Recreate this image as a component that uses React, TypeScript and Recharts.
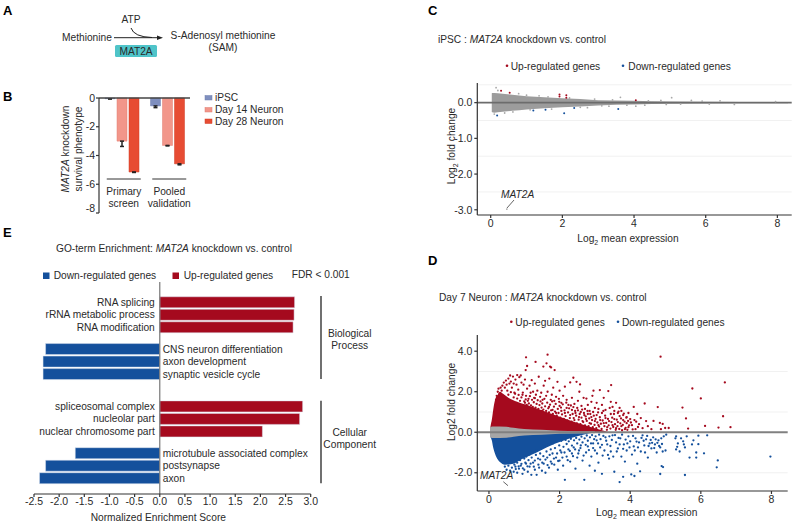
import React from 'react';
import {
  Area,
  Bar,
  BarChart,
  CartesianGrid,
  Cell,
  ComposedChart,
  ErrorBar,
  LabelList,
  ReferenceLine,
  Scatter,
  XAxis,
  YAxis,
} from 'recharts';

const FONT = '"Liberation Sans", Arial, sans-serif';
const INK = '#2a2a2a';
const RED = '#A50A1E';
const BLUE = '#14509C';
const GREY = '#9c9c9c';

// Panel B
const screenGroups = ['Primary screen', 'Pooled validation'];
const ipscValues = [-0.05, -0.55];
const day14Values = [-3.0, -3.3];
const day28Values = [-5.15, -4.58];
const ipscErrors = [0.02, 0.12];
const day14Errors = [0.37, 0.03];
const day28Errors = [0.03, 0.07];
const survivalTicks = [0, -2, -4, -6, -8];

// Panel E
const goTerms = [
  'RNA splicing', 'rRNA metabolic process', 'RNA modification',
  'CNS neuron differentiation', 'axon development', 'synaptic vesicle cycle',
  'spliceosomal complex', 'nucleolar part', 'nuclear chromosome part',
  'microtubule associated complex', 'postsynapse', 'axon',
];
const enrichmentScores = [2.68, 2.67, 2.65, -2.27, -2.32, -2.32, 2.84, 2.78, 2.04, -1.68, -2.27, -2.39];
const enrichmentTicks = [-2.5, -2, -1.5, -1, -0.5, 0, 0.5, 1, 1.5, 2, 2.5, 3];

// Panel C
const ipscUpper = [[0.03, 0.26], [0.04, 0.27], [0.1, 0.27], [0.2, 0.26], [0.4, 0.24], [0.6, 0.22], [0.8, 0.2], [1, 0.18], [1.5, 0.15], [2, 0.12], [2.5, 0.1], [3, 0.07], [3.5, 0.06], [4, 0.05], [4.5, 0.04], [5, 0.03], [6, 0.025], [7, 0.02], [8.3, 0.015]];
const ipscLower = [-0.26, -0.27, -0.28, -0.27, -0.25, -0.23, -0.21, -0.19, -0.16, -0.13, -0.11, -0.08, -0.06, -0.05, -0.04, -0.03, -0.025, -0.02, -0.015];
const ipscUpGenes = [[0.29, 0.33], [0.53, 0.28], [1.92, 0.23], [1.92, 0.17], [2.11, 0.21], [2.11, 0.14], [4.05, 0.07]];
const ipscDownGenes = [[0.18, -0.36], [2.05, -0.3], [1.53, -0.2], [1.19, -0.22], [2.33, -0.15], [3.56, -0.18]];
const ipscOtherGenes = [[0.15, 0.42], [0.2, 0.34], [3.62, 0.15], [5.05, 0.14], [0.45, -2.98], [0.39, -0.29], [2.7, -0.14], [0.1, -0.32], [0.78, 0.25], [1.35, 0.19], [1.7, -0.18], [2.9, 0.1], [3.3, -0.1], [4.3, -0.07], [4.05, -0.1], [4.75, 0.06], [5.6, 0.06], [6.4, 0.05], [6.8, -0.05], [7.95, 0.03], [0.62, -0.26], [1.0, 0.21], [1.1, -0.2], [1.6, 0.16], [2.2, 0.13], [2.5, -0.13], [3.1, -0.09], [3.4, 0.08], [3.8, -0.07], [4.4, 0.05], [4.9, -0.05], [5.3, -0.04], [5.9, 0.04], [6.1, -0.04]];
const ipscFoldTicks = [0, -1, -2, -3];
const ipscGridLines = [0.5, -0.5, -1, -1.5, -2, -2.5];

// Panel D
const neuronUpEnvelope = [[0.03, 0.15], [0.05, 0.35], [0.08, 0.6], [0.12, 1.1], [0.17, 1.58], [0.25, 1.85], [0.31, 2.0], [0.4, 1.9], [0.55, 1.7], [0.8, 1.5], [1.16, 1.3], [1.63, 1.0], [2.1, 0.7], [2.58, 0.42], [3.0, 0.2], [3.4, 0]];
const neuronDownEnvelope = [[0.03, -0.15], [0.05, -0.25], [0.08, -0.4], [0.12, -0.75], [0.17, -1.05], [0.25, -1.35], [0.31, -1.47], [0.45, -1.6], [0.69, -1.55], [0.97, -1.3], [1.35, -1.0], [1.63, -0.75], [2.1, -0.42], [2.5, -0.2], [3, 0]];
const neuronGreyBand = [[0.03, 0.25], [0.1, 0.28], [0.5, 0.27], [0.7, 0.22], [1, 0.16], [1.5, 0.12], [2, 0.08], [3, 0.05]];
const neuronUpGenes = [
  [1.66, 3.83], [1.05, 3.7], [1.32, 3.47], [1.63, 3.4], [1.08, 3.27], [1.04, 3.07], [1.73, 3.24], [1.54, 3.24], [1.86, 3.07], [1.76, 3.2],
  [0.2, 1.6], [0.22, 1.8], [0.25, 2.0], [0.27, 2.15], [0.3, 1.9], [0.33, 2.2], [0.36, 2.05], [0.38, 2.3], [0.42, 2.45], [0.45, 2.2],
  [0.48, 2.55], [0.5, 2.35], [0.52, 2.05], [0.55, 2.65], [0.58, 2.4], [0.6, 2.8], [0.62, 2.5], [0.65, 2.2], [0.68, 2.75], [0.7, 2.4],
  [0.72, 1.95], [0.75, 2.6], [0.78, 2.35], [0.8, 2.82], [0.83, 2.1], [0.86, 2.72], [0.9, 2.8], [0.92, 2.45], [0.95, 1.85], [0.98, 2.35],
  [1.02, 2.6], [1.05, 1.8], [1.08, 2.15], [1.12, 1.65], [1.15, 2.3], [1.18, 1.95], [1.21, 2.57], [1.25, 2.0], [1.28, 1.7], [1.3, 2.4],
  [1.33, 1.85], [1.37, 2.05], [1.41, 2.74], [1.45, 1.75], [1.48, 1.95], [1.52, 1.6], [1.55, 2.3], [1.59, 2.54], [1.62, 1.8], [1.66, 2.0],
  [1.71, 2.65], [1.75, 1.6], [1.78, 1.85], [1.82, 2.2], [1.85, 1.55], [1.9, 1.75], [1.94, 2.49], [1.98, 1.65], [2.0, 2.05], [2.05, 1.45],
  [2.1, 1.8], [2.15, 2.25], [2.2, 1.6], [2.25, 1.35], [2.3, 2.46], [2.35, 1.7], [2.39, 2.69], [2.42, 1.4], [2.48, 2.49], [2.52, 1.55],
  [2.56, 2.0], [2.58, 2.36], [2.62, 1.3], [2.68, 1.7], [2.72, 1.15], [2.76, 1.66], [2.8, 1.35], [2.85, 1.05], [2.9, 1.5], [2.93, 1.8],
  [2.96, 2.05], [3.0, 1.2], [1.5, 1.05], [1.6, 0.95], [1.7, 1.25], [1.8, 1.1], [1.9, 0.95], [2.0, 1.3], [2.05, 1.05], [2.15, 0.95],
  [2.2, 1.2], [2.3, 0.85], [2.35, 1.1], [2.4, 0.7], [2.45, 0.95], [2.5, 1.2], [2.55, 0.75], [2.6, 1.0], [2.65, 0.55], [2.7, 0.85],
  [2.75, 0.65], [2.8, 0.9], [2.85, 0.45], [2.9, 0.75], [2.95, 1.0], [3.0, 0.55], [3.05, 0.85], [3.1, 0.35], [3.15, 0.6], [3.2, 0.95],
  [3.25, 0.45], [3.3, 0.7], [3.35, 0.25], [3.4, 0.55], [3.45, 0.9], [3.5, 0.35], [3.55, 0.65], [3.6, 0.2], [3.65, 0.5], [3.7, 0.8],
  [3.75, 0.3], [3.8, 0.6], [3.85, 0.15], [3.9, 0.45], [3.95, 0.25], [3.05, 1.45], [3.1, 1.15], [3.2, 1.35], [3.25, 1.7], [3.3, 1.1],
  [3.38, 2.03], [3.14, 2.08], [3.46, 2.33], [3.45, 1.5], [3.5, 1.25], [3.55, 1.05], [3.6, 1.45], [3.65, 0.95], [3.7, 1.2], [3.75, 1.05],
  [3.8, 0.85], [3.9, 0.75], [3.95, 0.95], [4.0, 0.65], [4.05, 0.35], [4.1, 1.25], [4.12, 0.6], [4.15, 0.15], [4.2, 0.9], [4.25, 0.4],
  [4.3, 0.7], [4.35, 0.2], [4.41, 1.42], [4.45, 0.55], [4.5, 0.3], [4.6, 0.15], [4.66, 0.56], [4.78, 1.24], [4.84, 0.46], [4.86, 3.73],
  [4.87, 0.15], [4.92, 0.41], [4.99, 0.21], [5.09, 0.21], [5.48, 1.22], [5.58, 0.68], [5.64, 0.18], [5.76, 2.16], [6.0, 1.67], [6.12, 0.31],
  [6.5, 0.23], [6.63, 0.79], [6.68, 2.46], [6.84, 0.25],
];
// the thick speckled part of the up-regulated cloud
const neuronUpSpeckle = [
  [0.55, 1.85], [0.62, 1.98], [0.7, 1.72], [0.74, 1.9], [0.8, 1.66], [0.84, 1.84], [0.88, 1.55], [0.92, 1.72], [0.96, 1.96], [1.0, 1.52],
  [1.02, 1.45], [1.04, 1.62], [1.07, 1.35], [1.1, 1.55], [1.13, 1.42], [1.16, 1.78], [1.19, 1.33], [1.22, 1.6], [1.24, 1.25], [1.27, 1.48],
  [1.3, 1.68], [1.32, 1.22], [1.35, 1.4], [1.38, 1.58], [1.4, 1.15], [1.43, 1.34], [1.46, 1.52], [1.49, 1.22], [1.51, 1.42], [1.54, 1.12],
  [1.57, 1.65], [1.59, 1.28], [1.62, 1.05], [1.65, 1.46], [1.68, 1.18], [1.7, 0.98], [1.73, 1.36], [1.76, 1.08], [1.79, 1.52], [1.81, 0.9],
  [1.84, 1.26], [1.87, 1.02], [1.89, 1.4], [1.92, 0.82], [1.95, 1.15], [1.97, 0.95], [1.99, 1.5], [2.02, 0.72], [2.04, 1.22], [2.07, 0.88],
  [2.09, 1.38], [2.12, 0.66], [2.14, 1.08], [2.17, 0.8], [2.19, 1.46], [2.22, 0.58], [2.24, 0.98], [2.27, 1.18], [2.29, 0.7], [2.32, 1.32],
  [2.34, 0.52], [2.37, 0.9], [2.39, 1.24], [2.42, 0.6], [2.44, 1.05], [2.47, 0.82], [2.49, 0.44], [2.52, 1.08], [2.54, 0.62], [2.57, 0.9],
  [2.59, 0.4], [2.62, 0.72], [2.64, 1.12], [2.67, 0.5], [2.69, 0.95], [2.72, 0.34], [2.74, 0.78], [2.77, 0.56], [2.79, 1.05], [2.82, 0.3],
  [2.84, 0.68], [2.87, 0.9], [2.89, 0.42], [2.92, 0.6], [2.94, 0.25], [2.97, 0.82], [2.99, 0.36], [3.02, 0.66], [3.04, 0.2], [3.07, 0.48],
  [3.09, 0.98], [3.12, 0.28], [3.14, 0.74], [3.17, 0.42], [3.19, 0.16], [3.22, 0.58], [3.24, 1.05], [3.27, 0.3], [3.29, 0.82], [3.32, 0.46],
  [3.34, 0.12], [3.37, 0.66], [3.39, 0.34], [3.42, 1.2], [3.44, 0.18], [3.47, 0.5], [3.49, 0.72], [3.52, 0.26], [3.54, 0.9], [3.57, 0.4],
  [3.59, 0.12], [3.62, 0.62], [3.64, 0.3], [3.67, 1.02], [3.69, 0.16], [3.72, 0.44], [3.74, 0.68], [3.77, 0.1], [3.79, 0.36], [3.82, 0.92],
  [3.84, 0.52], [3.87, 0.22], [3.89, 0.72], [3.92, 0.12], [3.94, 0.56], [3.97, 0.34], [4.02, 0.48], [4.07, 0.14], [4.17, 0.52], [4.22, 0.26],
];
const neuronDownGenes = [
  [0.45, -1.7], [0.5, -1.85], [0.55, -1.65], [0.6, -1.9], [0.65, -1.75], [0.7, -1.95], [0.75, -1.7], [0.8, -2.0], [0.85, -1.8], [0.9, -1.65],
  [0.95, -2.05], [1.0, -1.85], [1.05, -1.55], [1.1, -1.95], [1.15, -1.7], [1.2, -2.1], [1.25, -1.5], [1.3, -1.85], [1.35, -2.1], [1.4, -1.6],
  [1.45, -1.35], [1.5, -1.9], [1.55, -1.55], [1.6, -2.0], [1.65, -1.25], [1.7, -1.75], [1.75, -1.45], [1.8, -1.05], [1.85, -1.6], [1.9, -1.25],
  [1.95, -1.85], [2.0, -1.4], [2.05, -1.0], [2.1, -1.65], [2.15, -2.35], [2.2, -1.2], [2.25, -0.85], [2.3, -1.45], [2.35, -1.05], [2.4, -0.75],
  [2.45, -1.8], [2.5, -1.25], [2.55, -0.9], [2.6, -0.65], [2.65, -1.4], [2.7, -2.35], [2.75, -1.0], [2.8, -0.7], [2.85, -1.65], [2.9, -1.2],
  [2.95, -0.55], [3.0, -0.9], [3.0, -1.9], [3.05, -0.4], [3.1, -1.5], [3.15, -0.75], [3.2, -2.05], [3.22, -1.15], [3.3, -0.25], [3.35, -0.6],
  [3.4, -1.3], [3.45, -0.95], [3.5, -0.15], [3.55, -1.95], [3.6, -0.5], [3.65, -0.8], [3.7, -2.46], [3.72, -0.3], [3.75, -1.2], [3.8, -2.2],
  [3.82, -0.6], [3.85, -1.45], [3.9, -0.9], [3.95, -0.2], [4.0, -0.45], [4.03, -2.08], [4.05, -1.1], [4.12, -2.16], [4.1, -0.7], [4.15, -0.3],
  [4.2, -1.55], [4.25, -0.5], [4.28, -1.93], [4.3, -0.95], [4.35, -0.15], [4.4, -0.65], [4.45, -0.35], [4.5, -1.25], [4.55, -0.55], [4.6, -0.8],
  [4.65, -0.25], [4.7, -0.6], [4.75, -1.0], [4.8, -0.4], [4.85, -2.06], [4.85, -0.75], [4.89, -1.67], [4.93, -1.72], [4.95, -0.2], [5.0, -0.9],
  [5.28, -0.3], [5.3, -0.85], [5.35, -0.55], [5.4, -0.95], [5.5, -0.45], [5.55, -2.11], [5.55, -0.75], [5.6, -0.2], [5.68, -1.25], [5.75, -0.6],
  [5.79, -0.4], [5.87, -1.0], [5.87, -1.25], [5.93, -0.59], [5.93, -0.17], [6.09, -1.04], [6.18, -0.15], [6.45, -1.73], [6.48, -1.39], [7.97, -1.2],
];
// the thick speckled part of the down-regulated cloud
const neuronDownSpeckle = [
  [0.72, -1.6], [0.76, -1.82], [0.8, -1.5], [0.84, -1.68], [0.88, -1.38], [0.92, -1.56], [0.96, -1.78], [1.0, -1.3], [1.03, -1.5], [1.06, -1.2],
  [1.09, -1.68], [1.12, -1.38], [1.15, -1.1], [1.18, -1.55], [1.21, -1.25], [1.24, -0.98], [1.27, -1.7], [1.3, -1.4], [1.33, -1.12], [1.36, -0.9],
  [1.39, -1.3], [1.42, -1.75], [1.45, -1.05], [1.48, -0.82], [1.51, -1.5], [1.54, -1.18], [1.57, -0.7], [1.6, -1.35], [1.63, -0.95], [1.66, -1.62],
  [1.69, -0.62], [1.72, -1.12], [1.75, -0.85], [1.78, -1.55], [1.81, -0.55], [1.84, -1.3], [1.87, -0.78], [1.9, -0.48], [1.93, -1.05], [1.96, -1.42],
  [1.99, -0.65], [2.02, -0.9], [2.05, -0.42], [2.08, -1.25], [2.11, -0.72], [2.14, -1.0], [2.17, -0.38], [2.2, -0.58], [2.23, -1.38], [2.26, -0.45],
  [2.29, -0.92], [2.32, -0.32], [2.35, -0.66], [2.38, -1.18], [2.41, -0.4], [2.44, -0.85], [2.47, -0.28], [2.5, -0.55], [2.53, -1.05], [2.56, -0.36],
  [2.59, -0.78], [2.62, -0.22], [2.65, -0.5], [2.68, -1.15], [2.71, -0.3], [2.74, -0.62], [2.77, -0.16], [2.8, -0.42], [2.83, -0.88], [2.86, -0.25],
  [2.89, -0.55], [2.92, -0.14], [2.95, -0.78], [2.98, -0.34], [3.02, -0.2], [3.06, -1.05], [3.09, -0.55], [3.12, -0.12], [3.16, -0.34], [3.2, -0.62],
  [3.24, -0.18], [3.27, -0.9], [3.32, -0.42], [3.37, -1.12], [3.41, -0.2], [3.44, -0.68], [3.48, -0.38], [3.52, -1.2], [3.57, -0.14], [3.62, -0.95],
  [3.67, -0.28], [3.7, -0.6], [3.77, -0.12], [3.8, -0.82], [3.87, -0.36], [3.92, -0.55], [3.98, -0.75], [4.08, -0.18], [4.13, -0.9], [4.18, -0.46],
  [4.22, -0.75], [4.32, -0.28], [4.38, -0.42], [4.42, -1.0], [4.48, -0.18], [4.52, -0.68], [4.58, -0.38], [4.62, -0.52], [4.68, -0.78], [4.72, -0.35],
  [4.77, -0.52], [4.82, -0.68], [4.88, -0.3], [4.9, -0.58], [4.92, -0.95], [5.02, -0.12], [5.3, -0.2], [5.33, -0.72], [5.44, -0.3], [5.52, -0.6],
];
const neuronFoldTicks = [4, 2, 0, -2];
const neuronGridLines = [4, 3, 2, 1, -1, -2];
const expressionTicks = [0, 2, 4, 6, 8];

const screenRows = screenGroups.map((group, i) => ({
  group,
  ipsc: ipscValues[i],
  day14: day14Values[i],
  day28: day28Values[i],
  ipscErr: [ipscErrors[i], 0],
  day14Err: [day14Errors[i], 0],
  day28Err: [day28Errors[i], 0],
}));

// bars sit on a numeric axis so the gaps between the four blocks can differ
const blockStarts = [0, 3.74, 8.32, 12.06];
const goRows = goTerms.map((term, i) => ({
  term,
  score: enrichmentScores[i],
  slot: blockStarts[Math.floor(i / 3)] + (i % 3),
}));

const toPoints = (pairs: number[][]) => pairs.map(([x, y]) => ({ x, y }));
const ipscBand = ipscUpper.map(([x, y], i) => ({ x, band: [ipscLower[i], y] }));
const upBand = neuronUpEnvelope.map(([x, y]) => ({ x, band: [0, y] }));
const downBand = neuronDownEnvelope.map(([x, y]) => ({ x, band: [y, 0] }));
const greyBand = neuronGreyBand.map(([x, y]) => ({ x, band: [-y, y] }));

const tickStyle = { fontSize: 10.5, fontFamily: FONT, fill: INK };
const axisStroke = { stroke: '#333', strokeWidth: 1.2 };

const dotShape = (fill: string, r: number) => (props: any) => (
  <circle cx={props.cx} cy={props.cy} r={r} fill={fill} />
);

const GroupTick = (props: any) => {
  const [first, second] = props.payload.value.split(' ');
  const cx = props.x + 2;
  return (
    <g fontFamily={FONT} fontSize={10.2} fill={INK} textAnchor="middle">
      <line x1={cx - 17} x2={cx + 17} y1={89} y2={89} stroke="#333" strokeWidth={1} />
      <text x={cx} y={105}>{first}</text>
      <text x={cx} y={117}>{second}</text>
    </g>
  );
};

const TermLabel = (props: any) => {
  const { x, y, height, value, index } = props;
  const up = goRows[index].score > 0;
  const zero = up ? x : x + Math.max(props.width, 0);
  return (
    <text
      x={up ? zero - 5 : zero + 3}
      y={y + height / 2 + 3.5}
      textAnchor={up ? 'end' : 'start'}
      fontFamily={FONT}
      fontSize={10.2}
      fill={INK}
    >
      {value}
    </text>
  );
};

const Abs = ({ left, top, children }: any) => (
  <div style={{ position: 'absolute', left, top }}>{children}</div>
);

const Log2 = ({ rest }: { rest: string }) => (
  <>
    Log<tspan fontSize={7} dy={2.5}>2</tspan>
    <tspan dy={-2.5}> {rest}</tspan>
  </>
);

const Overlay = () => (
  <svg
    width={800}
    height={526}
    style={{ position: 'absolute', left: 0, top: 0, pointerEvents: 'none' }}
    fontFamily={FONT}
    fontSize={10.2}
    fill={INK}
  >
    <g fontSize={13} fontWeight="bold" fill="#000">
      <text x={3} y={15}>A</text>
      <text x={3} y={101}>B</text>
      <text x={3} y={237}>E</text>
      <text x={428} y={15}>C</text>
      <text x={428} y={265}>D</text>
    </g>

    {/* A: reaction scheme */}
    <text x={131} y={23} textAnchor="middle">ATP</text>
    <text x={62} y={41}>Methionine</text>
    <line x1={114} x2={159} y1={37.7} y2={37.7} stroke="#222" strokeWidth={1} />
    <path d="M157 35.5 L163 37.7 L157 40 Z" fill="#222" />
    <path d="M131 28 Q134 37 152 37.5" fill="none" stroke="#222" strokeWidth={1} />
    <rect x={115} y={45} width={42} height={12} rx={1.5} fill="#4FC4C9" />
    <text x={136} y={54.5} textAnchor="middle">MAT2A</text>
    <text x={223} y={39} textAnchor="middle">S-Adenosyl methionine</text>
    <text x={223} y={51} textAnchor="middle">(SAM)</text>

    {/* B: axis title and legend */}
    <text transform="translate(69,149) rotate(-90)" textAnchor="middle">
      <tspan fontStyle="italic">MAT2A</tspan>  knockdown
    </text>
    <text transform="translate(82,149) rotate(-90)" textAnchor="middle">survival phenotype</text>
    <rect x={205} y={95.5} width={7} height={4.5} fill="#7F8FBF" stroke="#6f7fae" strokeWidth={0.5} />
    <rect x={205} y={107.5} width={7} height={4.5} fill="#F2968A" stroke="#e07d70" strokeWidth={0.5} />
    <rect x={205} y={119} width={7} height={4.5} fill="#E74C33" stroke="#d03c25" strokeWidth={0.5} />
    <text x={215} y={101}>iPSC</text>
    <text x={215} y={113}>Day 14 Neuron</text>
    <text x={215} y={125}>Day 28 Neuron</text>

    {/* E: title, legend, brackets */}
    <text x={56} y={252}>GO-term Enrichment: <tspan fontStyle="italic">MAT2A</tspan> knockdown vs. control</text>
    <rect x={43} y={272.5} width={6.5} height={6.5} fill={BLUE} />
    <text x={53.7} y={278.5}>Down-regulated genes</text>
    <rect x={172.5} y={272.5} width={6.5} height={6.5} fill={RED} />
    <text x={183.7} y={278.5}>Up-regulated genes</text>
    <text x={291.7} y={277.5}>FDR &lt; 0.001</text>
    <line x1={321} x2={321} y1={296} y2={379} stroke="#111" strokeWidth={1.2} />
    <line x1={321} x2={321} y1={400.7} y2={483.3} stroke="#111" strokeWidth={1.2} />
    <g textAnchor="middle">
      <text x={349.7} y={337.3}>Biological</text>
      <text x={349.7} y={349.3}>Process</text>
      <text x={349.7} y={435.7}>Cellular</text>
      <text x={349.7} y={448}>Component</text>
      <text x={158.3} y={521}>Normalized Enrichment Score</text>
    </g>

    {/* C: title, legend, axis titles, gene call-out */}
    <text x={438} y={43}>iPSC : <tspan fontStyle="italic">MAT2A</tspan> knockdown vs. control</text>
    <circle cx={507} cy={65.7} r={1.3} fill={RED} />
    <text x={510.7} y={70}>Up-regulated genes</text>
    <circle cx={623} cy={65.7} r={1.3} fill={BLUE} />
    <text x={628.3} y={70}>Down-regulated genes</text>
    <text x={628} y={242} textAnchor="middle"><Log2 rest="mean expression" /></text>
    <text transform="translate(455,146) rotate(-90)" textAnchor="middle"><Log2 rest="fold change" /></text>
    <text x={501} y={198} fontStyle="italic">MAT2A</text>
    <line x1={514} y1={200} x2={507} y2={208} stroke="#222" strokeWidth={0.7} />

    {/* D: title, legend, axis titles, gene call-out */}
    <text x={439} y={301}>Day 7 Neuron : <tspan fontStyle="italic">MAT2A</tspan> knockdown vs. control</text>
    <circle cx={511.3} cy={321.7} r={1.3} fill={RED} />
    <text x={515.3} y={326}>Up-regulated genes</text>
    <circle cx={618} cy={321.7} r={1.3} fill={BLUE} />
    <text x={622} y={326}>Down-regulated genes</text>
    <text x={646.7} y={516} textAnchor="middle"><Log2 rest="mean expression" /></text>
    <text transform="translate(455,402) rotate(-90)" textAnchor="middle">Log2 fold change</text>
    <text x={480} y={479} fontStyle="italic">MAT2A</text>
    <line x1={503.3} y1={481.7} x2={508} y2={485.7} stroke="#222" strokeWidth={0.7} />
  </svg>
);

const SurvivalChart = () => (
  <BarChart
    width={140}
    height={124}
    data={screenRows}
    margin={{ top: 8, right: 9, bottom: 0, left: 0 }}
    barSize={10}
    barGap={2}
  >
    <XAxis dataKey="group" axisLine={false} tickLine={false} height={1} tick={<GroupTick />} interval={0} />
    <YAxis
      width={40}
      domain={[-8, 0]}
      ticks={survivalTicks}
      tick={tickStyle}
      tickSize={3}
      tickMargin={1}
      axisLine={axisStroke}
      tickLine={axisStroke}
    />
    <Bar dataKey="ipsc" fill="#7F8FBF" stroke="#6f7fae" strokeWidth={0.5} isAnimationActive={false}>
      <ErrorBar dataKey="ipscErr" direction="y" width={2} stroke="#222" />
    </Bar>
    <Bar dataKey="day14" fill="#F2968A" stroke="#e07d70" strokeWidth={0.5} isAnimationActive={false}>
      <ErrorBar dataKey="day14Err" direction="y" width={2} stroke="#222" />
    </Bar>
    <Bar dataKey="day28" fill="#E74C33" stroke="#d03c25" strokeWidth={0.5} isAnimationActive={false}>
      <ErrorBar dataKey="day28Err" direction="y" width={2} stroke="#222" />
    </Bar>
    <ReferenceLine y={0} stroke="#444" strokeWidth={1.5} />
  </BarChart>
);

const EnrichmentChart = () => (
  <BarChart
    width={310}
    height={234}
    layout="vertical"
    data={goRows}
    margin={{ top: 2, right: 9.3, bottom: 0, left: 24 }}
    barSize={11}
  >
    <XAxis
      type="number"
      domain={[-2.5, 3]}
      ticks={enrichmentTicks}
      tickFormatter={(v: number) => v.toFixed(1)}
      tick={tickStyle}
      tickSize={3}
      tickMargin={1}
      interval={0}
      height={20}
      axisLine={axisStroke}
      tickLine={axisStroke}
    />
    <YAxis type="number" dataKey="slot" domain={[-1.6, 15.34]} hide width={0} />
    <ReferenceLine x={0} stroke="#777" strokeWidth={1.2} />
    <Bar dataKey="score" stroke="#dbe3ef" strokeWidth={0.5} isAnimationActive={false}>
      {goRows.map((row) => (
        <Cell key={row.term} fill={row.score > 0 ? RED : BLUE} />
      ))}
      <LabelList dataKey="term" content={<TermLabel />} />
    </Bar>
  </BarChart>
);

const IpscMaChart = () => (
  <ComposedChart width={370} height={165} margin={{ top: 8, right: 8.3, bottom: 0, left: 7.3 }}>
    <CartesianGrid vertical={false} horizontalValues={ipscGridLines} stroke="#f1f1f1" />
    <XAxis type="number" dataKey="x" domain={[-0.374, 8.4]} ticks={expressionTicks} tick={tickStyle} tickSize={3} height={25} axisLine={axisStroke} tickLine={axisStroke} />
    <YAxis type="number" width={40} domain={[-3.146, 0.55]} ticks={ipscFoldTicks} tickFormatter={(v: number) => v.toFixed(1)} tick={tickStyle} tickSize={3} axisLine={axisStroke} tickLine={axisStroke} />
    <Area data={ipscBand} dataKey="band" type="linear" stroke="none" fill={GREY} fillOpacity={1} dot={false} activeDot={false} isAnimationActive={false} />
    <Scatter data={toPoints(ipscOtherGenes)} dataKey="y" shape={dotShape('#a8a8a8', 0.9)} isAnimationActive={false} />
    <Scatter data={toPoints(ipscUpGenes)} dataKey="y" shape={dotShape(RED, 1)} isAnimationActive={false} />
    <Scatter data={toPoints(ipscDownGenes)} dataKey="y" shape={dotShape(BLUE, 1)} isAnimationActive={false} />
    <ReferenceLine y={0} stroke="#6c6c6c" strokeWidth={1.8} />
  </ComposedChart>
);

const NeuronMaChart = () => (
  <ComposedChart width={370} height={186} margin={{ top: 5, right: 12.3, bottom: 0, left: 7.3 }}>
    <CartesianGrid vertical={false} horizontalValues={neuronGridLines} stroke="#f1f1f1" />
    <XAxis type="number" dataKey="x" domain={[-0.33, 8.46]} ticks={expressionTicks} tick={tickStyle} tickSize={3} height={25} axisLine={axisStroke} tickLine={axisStroke} />
    <YAxis type="number" width={40} domain={[-2.9, 4.8]} ticks={neuronFoldTicks} tickFormatter={(v: number) => v.toFixed(1)} tick={tickStyle} tickSize={3} axisLine={axisStroke} tickLine={axisStroke} />
    <Area data={upBand} dataKey="band" type="monotone" stroke="none" fill={RED} fillOpacity={1} dot={false} activeDot={false} isAnimationActive={false} />
    <Area data={downBand} dataKey="band" type="monotone" stroke="none" fill={BLUE} fillOpacity={1} dot={false} activeDot={false} isAnimationActive={false} />
    <Scatter data={toPoints(neuronUpGenes)} dataKey="y" shape={dotShape(RED, 1.15)} isAnimationActive={false} />
    <Scatter data={toPoints(neuronUpSpeckle)} dataKey="y" shape={dotShape(RED, 1.15)} isAnimationActive={false} />
    <Scatter data={toPoints(neuronDownGenes)} dataKey="y" shape={dotShape(BLUE, 1.15)} isAnimationActive={false} />
    <Scatter data={toPoints(neuronDownSpeckle)} dataKey="y" shape={dotShape(BLUE, 1.15)} isAnimationActive={false} />
    <Area data={greyBand} dataKey="band" type="monotone" stroke="none" fill="#a6a6a6" fillOpacity={1} dot={false} activeDot={false} isAnimationActive={false} />
    <ReferenceLine y={0} stroke="#808080" strokeWidth={2} />
  </ComposedChart>
);

export default function App() {
  return (
    <div style={{ position: 'absolute', left: 0, top: 0, width: 800, height: 526, background: '#fff', overflow: 'hidden' }}>
      <Abs left={59} top={90}><SurvivalChart /></Abs>
      <Abs left={10} top={280}><EnrichmentChart /></Abs>
      <Abs left={430} top={75}><IpscMaChart /></Abs>
      <Abs left={430} top={330}><NeuronMaChart /></Abs>
      <Overlay />
    </div>
  );
}
